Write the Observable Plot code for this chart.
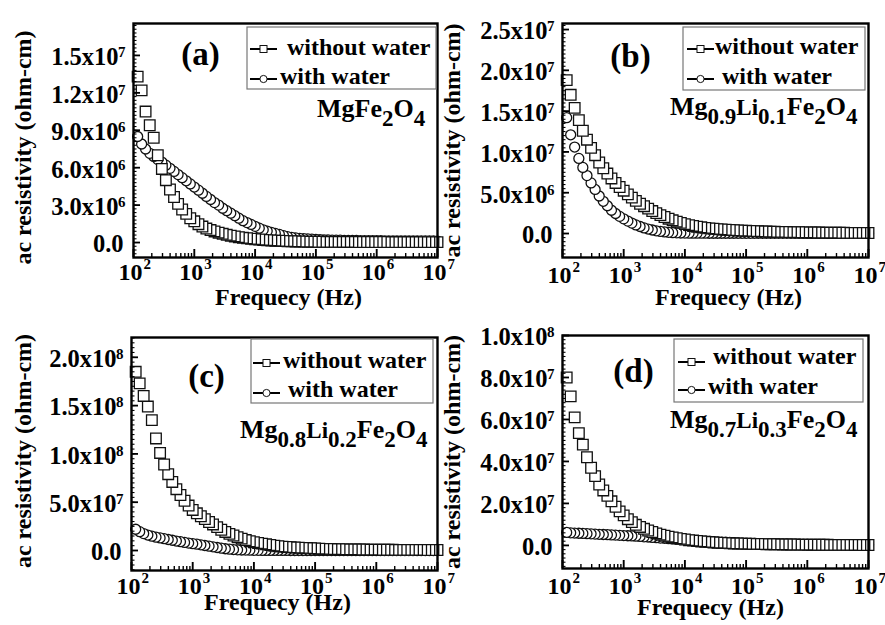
<!DOCTYPE html>
<html><head><meta charset="utf-8">
<script src="https://cdn.jsdelivr.net/npm/d3@7"></script>
<script src="https://cdn.jsdelivr.net/npm/@observablehq/plot@0.6"></script>
<style>
body{margin:0;background:#fff;}
#root{position:relative;width:885px;height:625px;overflow:hidden;background:#fff;}
.panel{position:absolute;}
.panel svg{overflow:visible;}
</style></head><body><div id="root"></div>
<script>
// Frequency (Hz), shared by all samples
const freq = [
1.17e2,1.36e2,1.58e2,1.85e2,2.15e2,2.51e2,2.93e2,3.41e2,3.98e2,4.64e2,5.41e2,6.31e2,7.36e2,8.58e2,1e3,
1.17e3,1.36e3,1.58e3,1.85e3,2.15e3,2.51e3,2.93e3,3.41e3,3.98e3,4.64e3,5.41e3,6.31e3,7.36e3,8.58e3,1e4,
1.17e4,1.36e4,1.58e4,1.85e4,2.15e4,2.51e4,2.93e4,3.41e4,3.98e4,4.64e4,5.41e4,6.31e4,7.36e4,8.58e4,1e5,
1.17e5,1.36e5,1.58e5,1.85e5,2.15e5,2.51e5,2.93e5,3.41e5,3.98e5,4.64e5,5.41e5,6.31e5,7.36e5,8.58e5,1e6,
1.17e6,1.36e6,1.58e6,1.85e6,2.15e6,2.51e6,2.93e6,3.41e6,3.98e6,4.64e6,5.41e6,6.31e6,7.36e6,8.58e6,1e7];

// (a) MgFe2O4, ac resistivity in units of 1e6 ohm-cm
const aWithout = [
13.3,12.2,10.5,9.4,8.4,7.0,5.9,5.0,4.25,3.65,3.1,2.65,2.3,1.95,1.7,
1.47,1.28,1.12,1.0,0.89,0.79,0.7,0.62,0.55,0.49,0.43,0.38,0.34,0.3,0.27,
0.24,0.21,0.19,0.17,0.15,0.14,0.12,0.11,0.1,0.09,0.08,0.075,0.07,0.065,0.06,
0.058,0.056,0.054,0.052,0.05,0.049,0.048,0.047,0.046,0.045,0.044,0.043,0.042,0.041,0.04,
0.04,0.039,0.039,0.038,0.038,0.037,0.037,0.036,0.036,0.035,0.035,0.034,0.034,0.033,0.033];
const aWith = [
8.5,7.9,7.5,7.15,6.9,6.65,6.45,6.2,5.95,5.7,5.45,5.2,4.95,4.7,4.45,
4.2,3.95,3.7,3.45,3.2,3.0,2.75,2.55,2.35,2.15,1.95,1.75,1.6,1.45,1.3,
1.15,1.02,0.92,0.82,0.73,0.65,0.55,0.47,0.42,0.38,0.34,0.31,0.29,0.27,0.25,
0.235,0.22,0.21,0.2,0.19,0.185,0.18,0.175,0.17,0.165,0.16,0.155,0.15,0.148,0.145,
0.142,0.14,0.138,0.136,0.134,0.132,0.13,0.128,0.126,0.125,0.124,0.123,0.122,0.121,0.12];

// (b) Mg0.9Li0.1Fe2O4, units of 1e6 ohm-cm
const bWithout = [
18.8,17.0,15.4,13.9,12.6,11.5,10.5,9.6,8.7,8.0,7.35,6.75,6.2,5.7,5.25,
4.8,4.4,4.0,3.65,3.35,3.05,2.75,2.5,2.25,2.02,1.82,1.62,1.45,1.3,1.15,
1.03,0.93,0.84,0.76,0.69,0.63,0.58,0.54,0.5,0.46,0.43,0.4,0.37,0.35,0.33,
0.31,0.29,0.27,0.25,0.24,0.22,0.21,0.2,0.19,0.18,0.17,0.16,0.15,0.14,0.13,
0.125,0.12,0.115,0.11,0.105,0.1,0.095,0.09,0.085,0.08,0.078,0.075,0.072,0.07,0.068];
const bWith = [
14.2,12.1,10.6,9.2,8.1,7.1,6.2,5.4,4.6,3.95,3.4,2.85,2.45,2.1,1.8,
1.52,1.28,1.05,0.86,0.69,0.55,0.43,0.33,0.25,0.19,0.14,0.1,0.08,0.06,0.05,
0.045,0.042,0.04,0.038,0.036,0.035,0.034,0.033,0.032,0.031,0.03,0.03,0.029,0.029,0.028,
0.028,0.027,0.027,0.026,0.026,0.025,0.025,0.025,0.024,0.024,0.024,0.023,0.023,0.023,0.022,
0.022,0.022,0.022,0.021,0.021,0.021,0.021,0.02,0.02,0.02,0.02,0.02,0.02,0.02,0.02];

// (c) Mg0.8Li0.2Fe2O4, units of 1e7 ohm-cm
const cWithout = [
18.5,17.3,16.0,14.9,13.5,11.6,10.1,8.9,7.9,7.1,6.35,5.75,5.15,4.65,4.2,
3.85,3.55,3.25,2.95,2.7,2.42,2.15,1.92,1.72,1.55,1.38,1.23,1.08,0.96,0.86,
0.78,0.71,0.64,0.57,0.5,0.44,0.4,0.36,0.33,0.31,0.29,0.27,0.25,0.23,0.21,
0.19,0.17,0.16,0.15,0.14,0.13,0.12,0.115,0.11,0.105,0.1,0.095,0.09,0.085,0.08,
0.078,0.075,0.072,0.07,0.068,0.066,0.064,0.062,0.06,0.058,0.056,0.054,0.052,0.05,0.05];
const cWith = [
2.2,1.95,1.75,1.6,1.48,1.38,1.3,1.22,1.14,1.06,0.98,0.91,0.84,0.77,0.71,
0.65,0.59,0.52,0.45,0.38,0.31,0.24,0.18,0.14,0.1,0.07,0.05,0.04,0.03,0.02,
0.015,0.012,0.01,0.008,0.006,0.005,0.004,0.003,0.002,0.001,0,0,0,0,0,
0,0,0,0,0,0,0,0,0,0,0,0,0,0,0,
0,0,0,0,0,0,0,0,0,0,0,0,0,0,0];

// (d) Mg0.7Li0.3Fe2O4, units of 1e7 ohm-cm
const dWithout = [
8.0,7.1,6.1,5.35,4.8,4.2,3.7,3.3,2.9,2.62,2.36,2.1,1.84,1.62,1.43,
1.25,1.11,0.98,0.88,0.79,0.71,0.64,0.57,0.51,0.46,0.42,0.38,0.34,0.31,0.28,
0.25,0.23,0.21,0.19,0.17,0.16,0.14,0.13,0.12,0.11,0.1,0.095,0.09,0.085,0.08,
0.075,0.07,0.066,0.062,0.058,0.055,0.052,0.049,0.046,0.044,0.042,0.04,0.038,0.036,0.034,
0.032,0.031,0.03,0.029,0.028,0.027,0.026,0.025,0.024,0.023,0.022,0.021,0.02,0.02,0.02];
const dWith = [
0.62,0.6,0.59,0.58,0.57,0.56,0.55,0.54,0.53,0.52,0.51,0.5,0.49,0.48,0.47,
0.46,0.45,0.44,0.43,0.41,0.4,0.38,0.37,0.35,0.34,0.32,0.31,0.29,0.28,0.26,
0.25,0.23,0.22,0.21,0.2,0.19,0.18,0.17,0.16,0.15,0.14,0.13,0.12,0.11,0.1,
0.095,0.09,0.085,0.08,0.075,0.07,0.066,0.062,0.058,0.055,0.052,0.05,0.048,0.046,0.044,
0.042,0.04,0.039,0.038,0.037,0.036,0.035,0.034,0.033,0.032,0.031,0.03,0.03,0.03,0.03];

// Tick values
const xTicks = [1e2,1e3,1e4,1e5,1e6,1e7];
const yTicksA = [0,3e6,6e6,9e6,1.2e7,1.5e7];
const yTicksB = [0,5e6,1e7,1.5e7,2e7,2.5e7];
const yTicksC = [0,5e7,1e8,1.5e8,2e8];
const yTicksD = [0,2e7,4e7,6e7,8e7,1e8];

// Texts
const seriesNames = ["without water","with water"];
const xTitle = "Frequecy (Hz)";
const yTitle = "ac resistivity (ohm-cm)";
const formulaA = [["MgFe",0],["2",1],["O",0],["4",1]];
const formulaB = [["Mg",0],["0.9",1],["Li",2],["0.1",1],["Fe",0],["2",1],["O",0],["4",1]];
const formulaC = [["Mg",0],["0.8",1],["Li",2],["0.2",1],["Fe",0],["2",1],["O",0],["4",1]];
const formulaD = [["Mg",0],["0.7",1],["Li",2],["0.3",1],["Fe",0],["2",1],["O",0],["4",1]];

const FONT = '"Liberation Serif","Times New Roman",serif';

const panels = [
 {label:"(a)", without:aWithout, withW:aWith, unit:1e6, yTicks:yTicksA, yDomain:[-1.2e6,1.756e7], formula:formulaA,
  box:{left:0, top:0, width:442, height:312, ml:133, mr:5, mt:23, mb:55},
  xLabDy:22, xT:{dx:3, dy:47}, yT:{dx:-110, dy:7}, letter:{dx:67, dy:41},
  legend:{x:247,y:27,w:189,h:62,sx:250,rows:[{sy:49,tx:287,ty:55},{sy:79,tx:280,ty:84}]},
  form:{x:317,y:117}},
 {label:"(b)", without:bWithout, withW:bWith, unit:1e6, yTicks:yTicksB, yDomain:[-2.94e6,2.574e7], formula:formulaB,
  box:{left:442, top:0, width:443, height:312, ml:120, mr:17, mt:23, mb:55},
  xLabDy:25, xT:{dx:13, dy:47}, yT:{dx:-110, dy:0}, letter:{dx:68, dy:43},
  legend:{x:241,y:27,w:182,h:63,sx:245,rows:[{sy:49,tx:273,ty:54},{sy:79,tx:280,ty:84}]},
  form:{x:228,y:115}},
 {label:"(c)", without:cWithout, withW:cWith, unit:1e7, yTicks:yTicksC, yDomain:[-2.07e7,2.205e8], formula:formulaC,
  box:{left:0, top:312, width:442, height:313, ml:131, mr:5, mt:25, mb:55},
  xLabDy:23, xT:{dx:-7, dy:39}, yT:{dx:-108, dy:-3}, letter:{dx:75, dy:49},
  legend:{x:251,y:27,w:182,h:64,sx:253,rows:[{sy:51,tx:283,ty:56},{sy:81,tx:288,ty:85}]},
  form:{x:240,y:126}},
 {label:"(d)", without:dWithout, withW:dWith, unit:1e7, yTicks:yTicksD, yDomain:[-1.1e7,1.0e8], formula:formulaD,
  box:{left:442, top:312, width:443, height:313, ml:120, mr:17, mt:23, mb:57},
  xLabDy:25, xT:{dx:-5, dy:46}, yT:{dx:-110, dy:0}, letter:{dx:71, dy:46},
  legend:{x:232,y:27,w:189,h:63,sx:236,rows:[{sy:50,tx:271,ty:52},{sy:78,tx:266,ty:82}]},
  form:{x:228,y:116}}
];

function mant(v){ const e = Math.floor(Math.log10(v) + 1e-9); return {m:(v/10**e).toFixed(1), e}; }

const xMinor = [];
for (let e = 2; e < 7; e++) for (let m = 2; m < 10; m++) xMinor.push(m * 10 ** e);

const root = document.getElementById("root");

for (const p of panels) {
  const b = p.box;
  const fw = b.width - b.ml - b.mr, fh = b.height - b.mt - b.mb;
  const rows = arr => freq.map((f, i) => ({f, v: arr[i] * p.unit})).reverse();
  const step = p.yTicks[1] - p.yTicks[0];
  const minorStep = step / 10;
  const yMinor = d3.range(Math.ceil(p.yDomain[0] / minorStep), Math.floor(p.yDomain[1] / minorStep) + 1).map(i => i * minorStep);
  const nz = p.yTicks.filter(d => d !== 0);

  const chart = Plot.plot({
    width: b.width, height: b.height,
    marginLeft: b.ml, marginRight: b.mr, marginTop: b.mt, marginBottom: b.mb,
    x: {type: "log", domain: [1e2, 1e7], axis: null},
    y: {domain: p.yDomain, axis: null},
    style: {fontFamily: FONT, fontWeight: "bold", background: "transparent", overflow: "visible", color: "black"},
    marks: [
      Plot.dot(rows(p.withW), {x: "f", y: "v", r: 5, symbol: "circle", stroke: "#111", fill: "white", strokeWidth: 1.3}),
      Plot.dot(rows(p.without), {x: "f", y: "v", r: 6, symbol: "square", stroke: "#111", fill: "white", strokeWidth: 1.3}),
      Plot.tickY(yMinor, {y: d => d, insetRight: fw - 3.5, stroke: "black", strokeWidth: 1.1}),
      Plot.tickY(p.yTicks, {y: d => d, insetRight: fw - 7, stroke: "black", strokeWidth: 1.8}),
      Plot.tickX(xMinor, {x: d => d, insetTop: fh - 4, stroke: "black", strokeWidth: 1.4}),
      Plot.tickX(xTicks, {x: d => d, insetTop: fh - 8, stroke: "black", strokeWidth: 1.9}),
      Plot.frame({stroke: "black", strokeWidth: 2.4}),
      // x tick labels 10^n
      Plot.text(xTicks, {x: d => d, text: () => "10", frameAnchor: "bottom", lineAnchor: "bottom", textAnchor: "middle", dx: -3, dy: p.xLabDy, fontSize: 24, fontWeight: "bold", fill: "black"}),
      Plot.text(xTicks, {x: d => d, text: d => String(Math.round(Math.log10(d))), frameAnchor: "bottom", lineAnchor: "bottom", textAnchor: "start", dx: 10, dy: p.xLabDy - 11, fontSize: 15, fontWeight: "bold", fill: "black"}),
      // y tick labels m.mx10^e
      Plot.text(nz, {y: d => d, text: d => mant(d).m + "x10", frameAnchor: "left", textAnchor: "end", dx: -15, dy: 2, fontSize: 24.5, fontWeight: "bold", fill: "black"}),
      Plot.text(nz, {y: d => d, text: d => String(mant(d).e), frameAnchor: "left", textAnchor: "end", dx: -8, dy: -3, fontSize: 15, fontWeight: "bold", fill: "black"}),
      Plot.text([0], {y: d => d, text: () => "0.0", frameAnchor: "left", textAnchor: "end", dx: -10, dy: 2, fontSize: 24.5, fontWeight: "bold", fill: "black"}),
      // axis titles
      Plot.text([xTitle], {text: d => d, frameAnchor: "bottom", lineAnchor: "bottom", textAnchor: "middle", dx: p.xT.dx, dy: p.xT.dy, fontSize: 24, fontWeight: "bold", fill: "black"}),
      Plot.text([yTitle], {text: d => d, frameAnchor: "left", textAnchor: "middle", lineAnchor: "middle", rotate: -90, dx: p.yT.dx, dy: p.yT.dy, fontSize: 24, fontWeight: "bold", fill: "black"}),
      // panel letter
      Plot.text([p.label], {text: d => d, frameAnchor: "top-left", lineAnchor: "bottom", textAnchor: "middle", dx: p.letter.dx, dy: p.letter.dy, fontSize: 33, fontWeight: "bold", fill: "black"})
    ]
  });

  const svg = d3.select(chart);
  const g = svg.append("g").attr("font-family", FONT).attr("font-weight", "bold")
    .attr("fill", "black").attr("text-anchor", "start");
  // legend
  const L = p.legend;
  g.append("rect").attr("x", L.x).attr("y", L.y).attr("width", L.w).attr("height", L.h)
    .attr("fill", "none").attr("stroke", "#777").attr("stroke-width", 1.2);
  L.rows.forEach((r, i) => {
    g.append("line").attr("x1", L.sx).attr("x2", L.sx + 27).attr("y1", r.sy).attr("y2", r.sy)
      .attr("stroke", "black").attr("stroke-width", 2);
    if (i === 0) {
      g.append("rect").attr("x", L.sx + 10).attr("y", r.sy - 3.5).attr("width", 7).attr("height", 7)
        .attr("fill", "white").attr("stroke", "#111").attr("stroke-width", 1);
    } else {
      g.append("circle").attr("cx", L.sx + 13.5).attr("cy", r.sy).attr("r", 3.6)
        .attr("fill", "white").attr("stroke", "#111").attr("stroke-width", 1);
    }
    g.append("text").attr("x", r.tx).attr("y", r.ty).attr("font-size", 24).attr("text-anchor", "start").text(seriesNames[i]);
  });
  // chemical formula
  const t = g.append("text").attr("x", p.form.x).attr("y", p.form.y).attr("text-anchor", "start");
  let shifted = false;
  for (const [s, kind] of p.formula) {
    const sp = t.append("tspan").text(s);
    const wantSub = kind === 1;
    if (wantSub && !shifted) { sp.attr("dy", 9); shifted = true; }
    else if (!wantSub && shifted) { sp.attr("dy", -9); shifted = false; }
    sp.attr("font-size", kind === 1 ? 23 : kind === 2 ? 23 : 26);
  }

  const div = document.createElement("div");
  div.className = "panel";
  div.style.left = b.left + "px";
  div.style.top = b.top + "px";
  div.appendChild(chart);
  root.appendChild(div);
}
</script>
</body></html>
